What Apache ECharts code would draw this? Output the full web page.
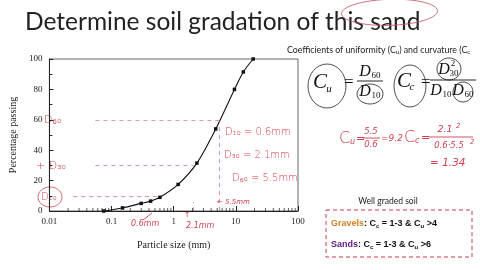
<!DOCTYPE html>
<html><head><meta charset="utf-8">
<script src="https://cdn.jsdelivr.net/npm/echarts@6/dist/echarts.min.js"></script>
<style>html,body{margin:0;padding:0;background:#fff}#c{width:480px;height:270px}</style>
</head><body><div id="c"></div>
<script>
const sieveSizes = [0.075, 0.15, 0.3, 0.425, 0.6, 1.18, 2.36, 4.75, 9.5, 13.2, 19];
const percentPassing = [0, 2, 5, 6.5, 9, 17.5, 31.5, 54, 80, 91.5, 100];
const xTickLabels = ['0.01', '0.1', '1', '10', '100'];
const yTickLabels = [0, 20, 40, 60, 80, 100];
const xMinorTicks = [0.02,0.03,0.04,0.05,0.06,0.07,0.08,0.09,0.2,0.3,0.4,0.5,0.6,0.7,0.8,0.9,2,3,4,5,6,7,8,9,20,30,40,50,60,70,80,90];
const dValues = {D10: 0.6, D30: 2.1, D60: 5.5};
const dPercents = {D10: 10, D30: 30, D60: 60};

const RED = '#d0404f';
const SERIF = '"Liberation Serif", "DejaVu Serif", serif';
const SANS = 'Lato, "Liberation Sans", sans-serif';
const HAND = '"DejaVu Sans", sans-serif';

function txt(x, y, s, size, opts) {
  return Object.assign({
    type: 'text', x: x, y: y, silent: true,
    style: Object.assign({text: s, fontSize: size, fill: '#111', fontFamily: SANS, textAlign: 'left', textVerticalAlign: 'middle'}, (opts || {}))
  });
}
function ell(cx, cy, rx, ry, color) {
  return {type: 'ellipse', silent: true, shape: {cx: cx, cy: cy, rx: rx, ry: ry}, style: {fill: 'none', stroke: color || '#222', lineWidth: 0.8}};
}
function ln(x1, y1, x2, y2, color, dash) {
  return {type: 'line', silent: true, shape: {x1: x1, y1: y1, x2: x2, y2: y2}, style: {stroke: color || '#111', lineWidth: 0.9, lineDash: dash || null}};
}

const chart = echarts.init(document.getElementById('c'), null, {renderer: 'canvas'});

const serif = (x, y, s, size, o) => txt(x, y, s, size, Object.assign({fontFamily: SERIF, fontStyle: 'italic', textAlign: 'center'}, o || {}));
const hand = (x, y, s, size, o) => txt(x, y, s, size, Object.assign({fontFamily: HAND, fill: RED, fontWeight: 200, fontStyle: 'italic'}, o || {}));

const graphics = [
  txt(25, 22, 'Determine soil gradation of this sand', 24.5, {fill: '#222'}),
  {type: 'ellipse', silent: true, rotation: 0.03, shape: {cx: 389, cy: 24, rx: 48, ry: 13}, style: {fill: 'none', stroke: '#c05060', lineWidth: 0.8}},
  {type: 'text', x: 287, y: 50, silent: true, style: {
    text: '{t|Coefficients of uniformity (C}{s|u}{t|) and curvature (C}{s|c}', textVerticalAlign: 'middle',
    rich: {t: {fontSize: 8.8, fill: '#222', fontFamily: SANS}, s: {fontSize: 6, fill: '#222', fontFamily: SANS, padding: [4, 0, 0, 0]}}
  }},
  // Cu formula
  serif(320, 82, 'C', 21), serif(329, 89, 'u', 11),
  ell(327, 86, 19, 22),
  txt(344, 83, '=', 17, {fontFamily: SERIF, fill: '#111'}),
  serif(365, 72, 'D', 16), serif(376, 76, '60', 9, {fontStyle: 'normal'}),
  ln(357, 81, 383, 81),
  serif(365, 92, 'D', 16), serif(376, 96, '10', 9, {fontStyle: 'normal'}),
  ell(370, 94, 13, 10),
  // Cc formula
  serif(404, 81, 'C', 21), serif(412, 87, 'c', 11),
  ell(410, 86, 16, 21),
  txt(421, 83, '=', 17, {fontFamily: SERIF, fill: '#111'}),
  serif(444, 70, 'D', 16), serif(454, 74, '30', 9, {fontStyle: 'normal'}), serif(453, 64, '2', 9, {fontStyle: 'normal'}),
  ell(449, 69, 12, 11),
  ln(430, 80, 476, 80),
  serif(436, 91, 'D', 16), serif(447, 95, '10', 9, {fontStyle: 'normal'}),
  serif(458, 91, 'D', 16), serif(469, 95, '60', 9, {fontStyle: 'normal'}),
  ell(463, 92, 10, 10),
  // handwritten calculations
  hand(339, 139, 'C', 16, {fontStyle: 'normal'}), hand(350, 142, 'u', 8),
  hand(356, 139, '=', 11),
  hand(371, 132, '5.5', 8.5, {textAlign: 'center'}), ln(363, 138, 380, 138, RED), hand(371, 145, '0.6', 8.5, {textAlign: 'center'}),
  hand(381, 139, '=9.2', 9),
  hand(404, 138, 'C', 16, {fontStyle: 'normal'}), hand(415, 141, 'c', 8),
  hand(421, 138, '=', 11),
  hand(445, 130, '2.1', 9.5, {textAlign: 'center'}), hand(456, 126, '2', 7),
  ln(429, 137, 473, 137, RED),
  hand(449, 146, '0.6\u00b75.5', 8.5, {textAlign: 'center'}), hand(470, 142, '2', 7),
  hand(430, 163, '= 1.34', 10.5, {textAlign: 'left'}),
  // left D annotations
  hand(44, 120, 'D\u2086\u2080', 11, {fontStyle: 'normal'}),
  hand(36, 166, '+ D\u2083\u2080', 11, {fontStyle: 'normal'}),
  hand(41, 197, 'D\u2081\u2080', 10, {fontStyle: 'normal'}),
  ell(50, 197, 12, 10, RED),
  // right D values
  hand(225, 132, 'D\u2081\u2080 = 0.6mm', 10, {fontStyle: 'normal'}),
  hand(224, 155, 'D\u2083\u2080 = 2.1mm', 10, {fontStyle: 'normal'}),
  hand(232, 178, 'D\u2086\u2080 = 5.5mm', 10, {fontStyle: 'normal'}),
  hand(217, 202, '\u2190 5.5mm', 7),
  hand(131, 224, '0.6mm', 8), ln(143, 220, 152, 213, RED),
  hand(186, 226, '2.1mm', 8), hand(187, 215, '\u2191', 8, {textAlign: 'center'}),
  // well graded box
  txt(388, 201, 'Well graded soil', 8.5, {textAlign: 'center', fill: '#222', fontFamily: 'Lato, sans-serif'}),
  {type: 'rect', silent: true, shape: {x: 326, y: 210, width: 146, height: 47}, style: {fill: 'none', stroke: '#c04050', lineWidth: 1, lineDash: [4, 3]}},
  {type: 'text', x: 331, y: 224, silent: true, style: {
    text: '{o|Gravels}{b|: C}{s|c}{b| = 1-3 & C}{s|u}{b| >4}', textVerticalAlign: 'middle',
    rich: {o: {fill: '#d08020', fontSize: 9, fontWeight: 'bold', fontFamily: 'Liberation Sans'}, b: {fill: '#111', fontSize: 9, fontWeight: 'bold', fontFamily: 'Liberation Sans'}, s: {fill: '#111', fontSize: 6, fontWeight: 'bold', fontFamily: 'Liberation Sans', padding: [5, 0, 0, 0]}}
  }},
  {type: 'text', x: 331, y: 245, silent: true, style: {
    text: '{o|Sands}{b|: C}{s|c}{b| = 1-3 & C}{s|u}{b| >6}', textVerticalAlign: 'middle',
    rich: {o: {fill: '#602080', fontSize: 9, fontWeight: 'bold', fontFamily: 'Liberation Sans'}, b: {fill: '#111', fontSize: 9, fontWeight: 'bold', fontFamily: 'Liberation Sans'}, s: {fill: '#111', fontSize: 6, fontWeight: 'bold', fontFamily: 'Liberation Sans', padding: [5, 0, 0, 0]}}
  }}
];

const dashStyle = {color: RED, type: [4, 4], width: 0.8, opacity: 0.7};
const option = {
  animation: false,
  backgroundColor: '#fff',
  grid: {left: 37, right: 182, top: 59, bottom: 59, show: true, borderColor: '#666', borderWidth: 1, backgroundColor: 'transparent'},
  xAxis: {
    type: 'log', logBase: 10, min: 0.01, max: 100,
    name: 'Particle size (mm)', nameLocation: 'middle', nameGap: 29,
    nameTextStyle: {fontFamily: SERIF, fontSize: 10, color: '#222'},
    axisLine: {lineStyle: {color: '#222', width: 1}},
    axisTick: {inside: true, length: 5, lineStyle: {color: '#222'}},
    axisLabel: {fontFamily: SERIF, fontSize: 9, color: '#222', margin: 6,
      formatter: v => { const i = Math.round(Math.log10(v)) + 2; return xTickLabels[i] !== undefined ? xTickLabels[i] : ''; }},
    splitLine: {show: false}
  },
  yAxis: {
    type: 'value', min: 0, max: 100, interval: 20,
    name: 'Percentage passing', nameLocation: 'middle', nameGap: 25,
    nameTextStyle: {fontFamily: SERIF, fontSize: 10, color: '#222'},
    axisLine: {show: true, lineStyle: {color: '#222', width: 1}},
    axisTick: {show: true, inside: true, length: 4, lineStyle: {color: '#222'}},
    minorTick: {show: true, splitNumber: 2, length: 3, lineStyle: {color: '#222'}},
    axisLabel: {fontFamily: SERIF, fontSize: 9, color: '#222', margin: 7,
      formatter: v => yTickLabels.indexOf(v) >= 0 ? String(v) : ''},
    splitLine: {show: false}
  },
  series: [
    {
      type: 'line', data: sieveSizes.map((s, i) => [s, percentPassing[i]]),
      smooth: 0.3, symbol: 'rect', symbolSize: 3.5,
      lineStyle: {color: '#111', width: 1.1}, itemStyle: {color: '#111'},
      markLine: {
        silent: true, symbol: ['none', 'none'], label: {show: false}, lineStyle: dashStyle,
        data: [
          [{coord: [0.055, dPercents.D60]}, {coord: [dValues.D60, dPercents.D60]}],
          [{coord: [0.055, dPercents.D30]}, {coord: [dValues.D30, dPercents.D30]}],
          [{coord: [0.024, dPercents.D10]}, {coord: [dValues.D10, dPercents.D10]}],
          [{coord: [dValues.D60, 0]}, {coord: [dValues.D60, dPercents.D60]}],
          [{coord: [dValues.D30, 0]}, {coord: [dValues.D30, 6]}]
        ]
      }
    },
    {
      type: 'scatter', silent: true, data: xMinorTicks.map(v => [v, 0]),
      symbol: 'rect', symbolSize: [0.9, 3], symbolOffset: [0, -1.5],
      itemStyle: {color: '#222'}, clip: false, z: 1
    }
  ],
  graphic: graphics
};
chart.setOption(option);
</script>
</body></html>
